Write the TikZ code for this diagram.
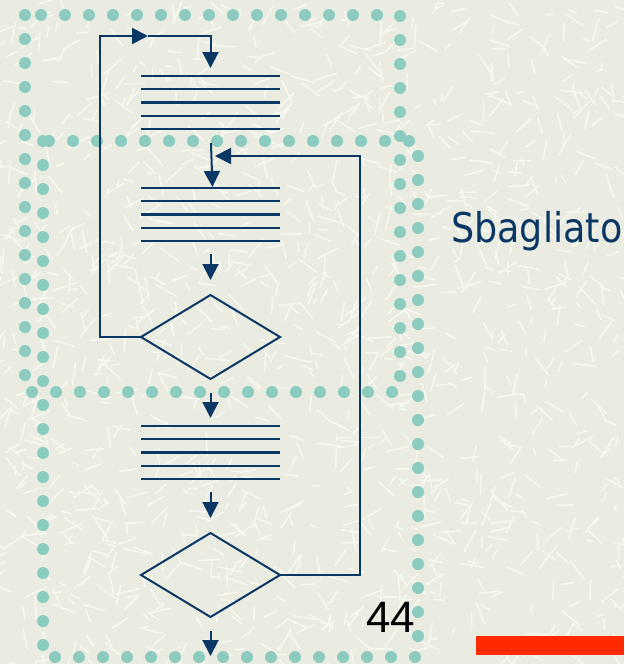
\documentclass[tikz,border=0pt]{standalone}
\usepackage{fontspec}
\usetikzlibrary{arrows.meta,calc,shapes.geometric}
\newfontfamily\verdictfont[FakeStretch=0.89]{DejaVu Sans}
\newfontfamily\pagefont{Liberation Sans}
\definecolor{paper}{HTML}{EBECE1}
\definecolor{fibre}{HTML}{F6F7EF}
\definecolor{dotline}{HTML}{8BCBC0}
\definecolor{flow}{HTML}{0B3765}
\definecolor{accent}{HTML}{FF2A00}

\tikzset{
  frame/.style={dotline, line width=12pt, line cap=round, dash pattern=on 0pt off 24pt},
  stmt/.style={rectangle, minimum width=139pt, minimum height=53pt, inner sep=0pt, outer sep=0pt},
  test/.style={diamond, draw=flow, line width=2pt, minimum width=139pt, minimum height=84pt,
    inner sep=0pt, outer sep=0pt, aspect=1.65},
  rule/.style={flow, line width=2.4pt},
  link/.style={flow, line width=2pt},
}

\begin{document}
\begin{tikzpicture}[x=1pt, y=-1pt, >={Triangle[length=16pt,width=16pt]}]

  % ============== Paper ==============
  \fill[paper] (0,0) rectangle (624,664);
  \useasboundingbox (0,0) rectangle (624,664);
  \begin{scope}
    \clip (0,0) rectangle (624,664);
    \pgfmathsetseed{42}
    \foreach \i in {1,...,1300} {
      \pgfmathsetmacro{\fx}{rnd*624}
      \pgfmathsetmacro{\fy}{rnd*664}
      \pgfmathsetmacro{\fa}{rnd*180}
      \pgfmathsetmacro{\fl}{6+rnd*18}
      \draw[fibre, line width=1.6pt, line cap=round] (\fx,\fy) -- ++(\fa:\fl);
    }
  \end{scope}

  % ============== Dotted frames ==============
  \draw[frame] (25,15) rectangle (400,392);
  \draw[frame] (43,141) rectangle (418,657);

  % ============== Blocks ==============
  \node[stmt] (blkA) at (210.5,102.5) {};
  \node[stmt] (blkB) at (210.5,214.5) {};
  \node[test] (decA) at (210.5,337) {};
  \node[stmt] (blkC) at (210.5,452.5) {};
  \node[test] (decB) at (210.5,575) {};

  % five rules per statement block
  \foreach \b in {blkA,blkB,blkC}
    \foreach \k in {0,...,4}
      \draw[rule] ($(\b.north west)!\k/4!(\b.south west)$) -- ($(\b.north east)!\k/4!(\b.south east)$);

  % ============== Straight flow ==============
  \draw[link,->, shorten <=14pt, shorten >=1pt] (blkA.south) -- ($(blkB.north)+(2,0)$);
  \draw[link,->, shorten <=13pt, shorten >=15pt] (blkB.south) -- (decA.north);
  \draw[link,->, shorten <=14pt, shorten >=8pt] (decA.south) -- (blkC.north);
  \draw[link,->, shorten <=13pt, shorten >=15pt] (blkC.south) -- (decB.north);
  \coordinate (exit) at (210.5,656);
  \draw[link,->, shorten <=14pt] (decB.south) -- (exit);

  % ============== Loops ==============
  % back from the first test to the top block
  \coordinate (loopL) at (100,36);
  \coordinate (loopM) at (148,36);
  \draw[link,->] (decA.west) -| (loopL) -- (loopM);
  \draw[link,->, shorten >=8pt] (loopM) -| (blkA.north);

  % back from the second test into the middle frame
  \coordinate (backR) at (360,156);
  \coordinate (backT) at (215,156);
  \draw[link,->] (decB.east) -| (backR) -- (backT);

  % ============== Labels ==============
  \node[anchor=base west, inner sep=0pt, text=flow,
    font=\verdictfont\fontsize{41}{49}\selectfont] (verdict) at (451,242) {Sbagliato};
  \node[anchor=base west, inner sep=0pt,
    font=\pagefont\fontsize{44}{52}\selectfont] (pageno) at (366,632) {44};

  % red bar, bottom right
  \fill[accent] (476,636) rectangle (624,655);

\end{tikzpicture}
\end{document}
